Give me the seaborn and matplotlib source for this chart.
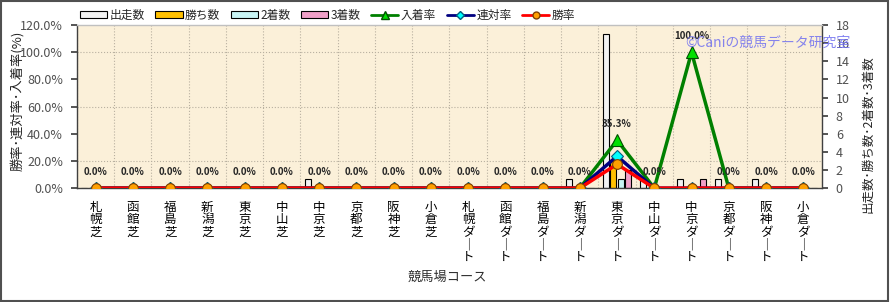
import numpy as np
import pandas as pd
import matplotlib
matplotlib.use("Agg")
import matplotlib.pyplot as plt
import seaborn as sns
from matplotlib.patches import Patch, Rectangle
from matplotlib.lines import Line2D
from matplotlib.ticker import MultipleLocator, FuncFormatter

# Data
courses = ["札幌芝", "函館芝", "福島芝", "新潟芝", "東京芝", "中山芝", "中京芝", "京都芝", "阪神芝", "小倉芝",
           "札幌ダート", "函館ダート", "福島ダート", "新潟ダート", "東京ダート", "中山ダート", "中京ダート",
           "京都ダート", "阪神ダート", "小倉ダート"]
starts = [0, 0, 0, 0, 0, 0, 1, 0, 0, 0, 0, 0, 0, 1, 17, 1, 1, 1, 1, 0]
wins = [0, 0, 0, 0, 0, 0, 0, 0, 0, 0, 0, 0, 0, 0, 3, 0, 0, 0, 0, 0]
seconds = [0, 0, 0, 0, 0, 0, 0, 0, 0, 0, 0, 0, 0, 0, 1, 0, 0, 0, 0, 0]
thirds = [0, 0, 0, 0, 0, 0, 0, 0, 0, 0, 0, 0, 0, 0, 2, 0, 1, 0, 0, 0]
place_rate = [0, 0, 0, 0, 0, 0, 0, 0, 0, 0, 0, 0, 0, 0, 35.3, 0, 100.0, 0, 0, 0]
rentai_rate = [0, 0, 0, 0, 0, 0, 0, 0, 0, 0, 0, 0, 0, 0, 23.5, 0, 0, 0, 0, 0]
win_rate = [0, 0, 0, 0, 0, 0, 0, 0, 0, 0, 0, 0, 0, 0, 17.6, 0, 0, 0, 0, 0]

bar_names = ["出走数", "勝ち数", "2着数", "3着数"]
bar_colors = ["#F2F2F2", "#FFC000", "#C8F4F4", "#F0A0C8"]

sns.set_theme(style="white")
plt.rcParams["font.family"] = ["Noto Sans CJK JP", "DejaVu Sans"]

bars_df = pd.DataFrame({"コース": courses, "出走数": starts, "勝ち数": wins,
                        "2着数": seconds, "3着数": thirds})
bars_df = bars_df.melt(id_vars="コース", var_name="系列", value_name="数")

fig = plt.figure(figsize=(8.9, 3.02), dpi=100)
ax = fig.add_axes([0.0865, 0.377, 0.837, 0.54])
ax.set_facecolor("#FBF0D9")

# bars (right axis scale)
sns.barplot(data=bars_df, x="コース", y="数", hue="系列", hue_order=bar_names,
            palette=bar_colors, saturation=1, gap=0.2, edgecolor="black",
            linewidth=0.8, legend=False, ax=ax)
ax.set_ylim(0, 18)
ax.set_xlim(-0.5, len(courses) - 0.5)

# rate lines (left axis scale)
ax2 = ax.twinx()
x = np.arange(len(courses))
sns.lineplot(x=x, y=place_rate, ax=ax2, color="#008000", lw=2.5, marker="^", ms=9,
             mfc="#00E000", mec="#005000", mew=0.8, zorder=3)
sns.lineplot(x=x, y=rentai_rate, ax=ax2, color="#000080", lw=2.5, marker="D", ms=6,
             mfc="#00FFFF", mec="#006080", mew=0.8, zorder=4)
sns.lineplot(x=x, y=win_rate, ax=ax2, color="#FF0000", lw=2.5, marker="o", ms=7,
             mfc="#FFA000", mec="#804000", mew=0.8, zorder=5)
ax2.set_ylim(0, 120)
ax2.set_xlim(-0.5, len(courses) - 0.5)

# swap sides: counts on the right, rates on the left
ax.yaxis.tick_right()
ax2.yaxis.tick_left()
ax.set_yticks(range(0, 19, 2))
ax.yaxis.set_minor_locator(MultipleLocator(3))
ax.set_xticks(np.arange(-0.5, len(courses), 1), minor=True)
ax.grid(which="minor", color="#B8B0A0", linestyle=":", linewidth=0.8)
ax.grid(which="major", visible=False)
ax.set_axisbelow(True)
ax.tick_params(axis="y", which="major", left=False, right=True, labelleft=False,
               labelright=True, length=4, color="#404040", labelsize=9,
               labelcolor="#505050", pad=6)
ax.tick_params(which="minor", length=0)
ax.tick_params(axis="x", which="major", length=0, pad=9)
ax.set_xlabel("")
ax.set_ylabel("")
vlabels = ["\n".join(c.replace("ー", "｜")) for c in courses]
ax.set_xticks(range(len(courses)))
ax.set_xticklabels(vlabels, fontsize=9, linespacing=0.97, va="top", color="black")
for s in ax.spines.values():
    s.set_color("#404040")
    s.set_linewidth(1)
ax.spines["top"].set_color("#C0C0C0")

ax2.set_yticks(range(0, 121, 20))
ax2.yaxis.set_major_formatter(FuncFormatter(lambda v, p: f"{v:.1f}%"))
ax2.tick_params(axis="y", left=True, right=False, labelleft=True, labelright=False,
                length=4, color="#404040", labelsize=9, labelcolor="#505050", pad=6)
for s in ax2.spines.values():
    s.set_visible(False)
ax2.set_xlabel("")
ax2.set_ylabel("")

for i, v in enumerate(place_rate):
    ax2.annotate(f"{v:.1f}%", (i, v), xytext=(0, 11.5), textcoords="offset points",
                 ha="center", va="center", fontsize=7, fontweight="bold", zorder=6)

# legend
handles = [Patch(facecolor=c, edgecolor="black", lw=0.8) for c in bar_colors]
handles += [
    Line2D([], [], color="#008000", lw=2, marker="^", ms=6, mfc="#00E000", mec="#005000"),
    Line2D([], [], color="#000080", lw=2, marker="D", ms=4, mfc="#00FFFF", mec="#006080"),
    Line2D([], [], color="#FF0000", lw=2, marker="o", ms=5, mfc="#FFA000", mec="#804000"),
]
labels = bar_names + ["入着率", "連対率", "勝率"]
fig.legend(handles, labels, loc="center left", bbox_to_anchor=(0.09, 0.95), ncol=7,
           frameon=False, fontsize=8.5, handlelength=2.3, handleheight=0.5,
           columnspacing=0.9, handletextpad=0.2, borderpad=0, borderaxespad=0)

fig.text(0.503, 0.08, "競馬場コース", ha="center", va="center", fontsize=9.5, color="#303030")
fig.text(0.019, 0.665, "勝率･連対率･入着率(%)", rotation=90, ha="center",
         va="center", fontsize=9.5)
fig.text(0.975, 0.555, "出走数･勝ち数･2着数･3着数", rotation=90, ha="center",
         va="center", fontsize=9)
fig.text(0.77, 0.858, "©Caniの競馬データ研究室", ha="left", va="center", fontsize=10,
         color="#7070F0", alpha=0.85)

fig.add_artist(Rectangle((0.001, 0.002), 0.997, 0.995, transform=fig.transFigure,
                         fill=False, edgecolor="#505050", lw=1.5))

fig.savefig("out.png", dpi=100)
